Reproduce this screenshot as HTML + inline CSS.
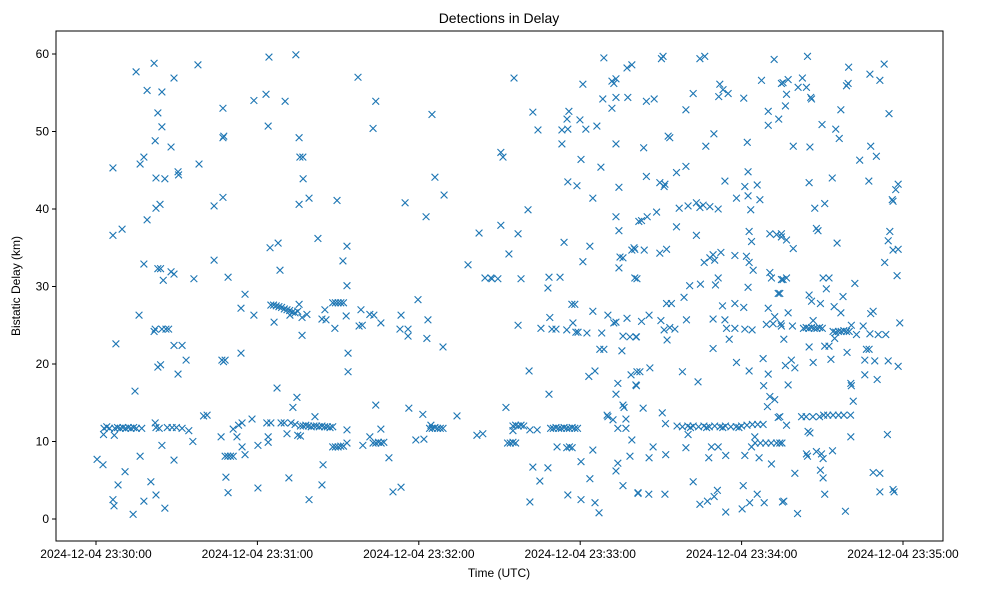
<!DOCTYPE html>
<html><head><meta charset="utf-8"><style>
html,body{margin:0;padding:0;background:#fff;}
svg{display:block;font-family:"Liberation Sans","DejaVu Sans",sans-serif;}
</style></head><body>
<svg id="chart" width="985" height="590" viewBox="0 0 985 590">
<rect x="0" y="0" width="985" height="590" fill="#fff"/>
<text x="499" y="23" font-size="14" text-anchor="middle" fill="#000">Detections in Delay</text>
<g id="marks"></g>
<rect x="56" y="31" width="887" height="510" fill="none" stroke="#000" stroke-width="1"/>
<g id="xaxis"></g>
<g id="yaxis"></g>
<text x="499" y="577" font-size="12" text-anchor="middle">Time (UTC)</text>
<text x="20" y="286" font-size="12" text-anchor="middle" transform="rotate(-90 20 286)">Bistatic Delay (km)</text>
</svg>
<script>
const xTickSec = [0, 60, 120, 180, 240, 300];
const xTickLabels = ["2024-12-04 23:30:00","2024-12-04 23:31:00","2024-12-04 23:32:00","2024-12-04 23:33:00","2024-12-04 23:34:00","2024-12-04 23:35:00"];
const yTicks = [0, 10, 20, 30, 40, 50, 60];
// [seconds after 23:30:00, bistatic delay km]
const detections = [
[21.6,58.8],[14.9,57.7],[37.9,58.6],[29,56.9],[19,55.3],[24.5,55.1],[23,52.4],[24.5,50.6],[22,48.8],[27.9,48],[17.8,46.7],[16.4,45.8],[6.3,45.3],[38.3,45.8],[22.3,44],[25.6,43.9],[30.5,44.8],[30.7,44.4],[22.3,40.1],[23.8,40.6],[19,38.6],[6.3,36.6],[9.7,37.4],[17.8,32.9],[23,32.3],[24,32.3],[25,30.8],[27.9,31.9],[29,31.6],[36.4,31],[16,26.3],[22,24.5],[21.6,24.2],[24.5,24.5],[26,24.5],[27,24.5],[7.4,22.6],[29,22.4],[32,22.4],[33.5,20.5],[23,19.6],[24,19.9],[30.5,18.7],[14.5,16.5],[40,13.3],
[3,11.7],[4,11.9],[5,11.7],[7,11.7],[8,11.8],[9,11.7],[10,11.8],[11,11.7],[12,11.8],[13,11.7],[14,11.8],[15,11.7],[17,11.7],[2.8,10.9],[6.8,10.8],[22,12.4],[22.3,11.8],[23.5,11.7],[26.5,11.8],[28.3,11.8],[29.9,11.8],[32,11.7],[34.5,11.4],[36,10],[24.5,9.5],[16.4,8.1],[29,7.6],[0.4,7.7],[2.6,7],[10.8,6.1],[8.2,4.4],[20.4,4.8],[22.3,3.1],[17.8,2.3],[6.3,2.5],[6.7,1.7],[25.6,1.4],[13.8,0.6],
[64.3,59.6],[74.3,59.9],[58.7,54],[63.2,54.8],[70.3,53.9],[47.2,53],[64,50.7],[47.2,49.2],[47.5,49.4],[75.5,49.2],[75.8,46.7],[76.9,46.7],[77,43.9],[75.5,40.6],[79.2,41.4],[89.6,41.1],[43.9,40.4],[47.2,41.5],[64.7,35],[67.7,35.6],[82.5,36.2],[93.3,35.2],[91.8,33.3],[93.3,30.1],[43.9,33.4],[49.1,31.2],[55.4,29],[53.9,27.2],[58.7,26.3],[68.4,32.1],
[65,27.6],[66,27.6],[67,27.5],[68,27.4],[69,27.3],[70,27.1],[71,27],[72,26.9],[73,26.7],[74,26.6],[75,26.8],[75.5,27.7],[66.2,25.4],[72.1,26.3],[76.6,26],[78.4,26.4],[76.6,23.7],[85.1,27],[84,25.8],[85.5,25.7],[88.8,24.6],[88,27.9],[89,27.9],[90,27.9],[91,27.9],[92,27.9],[93,26.2],[93.7,21.4],[93.7,19],[46.8,20.5],[48,20.5],[47.4,20.3],[53.9,21.4],[67.3,16.9],[74.7,15.7],[73.2,14.4],[41.3,13.4],[81.4,13.2],
[76,12],[77,12],[78,12.1],[79,12],[80,11.9],[81,12],[82,12],[83,11.9],[84,12],[85,11.9],[86,11.9],[87,11.8],[88,11.9],[58,12.9],[54.3,12.4],[53,12.1],[51,11.6],[63.5,12.4],[65,12.4],[68.8,12.4],[70,12.4],[72.5,12.4],[74,12.2],[46.5,10.6],[52.4,10.6],[64,10.6],[64,9.9],[71,11],[75,10.8],[76,10.7],[60.2,9.5],[54.3,9.3],[48,8.1],[49,8.1],[50,8.1],[51,8.1],[55.4,8.3],[88,9.3],[89,9.3],[90,9.3],[91,9.4],[92,9.4],[93.3,9.8],[93.3,11.5],[84.4,7],[48.3,5.4],[49.1,3.4],[60.2,4],[71.7,5.3],[84,4.4],[79.2,2.5],
[97.4,57],[104,53.9],[103,50.4],[124.9,52.2],[126,44.1],[129.4,41.8],[114.9,40.8],[122.7,39],[142.4,36.9],[138.3,32.8],[144.6,31.1],[146.8,31.1],[119.7,28.3],[98.5,27],[101.8,26.4],[103.3,26.3],[97.8,24.9],[99,25],[105.9,25.3],[113.4,26.3],[123.4,25.7],[113,24.5],[116,24.5],[116,23.6],[123,23.3],[129,22.2],[104,14.7],[116.3,14.3],[121.5,13.5],[134.2,13.3],[105.9,11.6],[101.8,10.6],[99.2,9.5],[103,9.8],[104,9.8],[105,9.9],[106,9.8],[107,9.9],[108.9,7.9],[118.9,10.2],[121.9,10.3],[124.5,12.1],[124,11.7],[125,11.7],[126,11.8],[127,11.7],[128,11.7],[129,11.7],[141.6,10.8],[143.8,11],[110.4,3.5],[113.4,4.1],
[188.8,59.5],[197.4,58.2],[199.2,58.6],[155.4,56.9],[181,56.1],[191.8,56.5],[193.3,56.8],[192.5,56.2],[188.4,54.2],[193.3,54.4],[197.7,54.4],[191.8,53],[162.4,52.5],[175.8,52.6],[175.1,51.6],[179.9,51.5],[164.3,50.2],[173.2,50.2],[175.4,50.3],[182.1,50.3],[186.2,50.7],[173.2,48.4],[193.3,48.4],[150.5,47.3],[151.3,46.7],[180.3,46.4],[187.7,45.4],[175.4,43.5],[178.8,43],[194.4,42.8],[184.7,41.4],[160.6,39.9],[150.5,37.9],[156.9,36.8],[193.3,39],[194.4,37.2],[201.8,38.4],[174,35.7],[183.6,35.2],[153.5,34.2],[181,33.2],[194.8,33.8],[195.9,33.7],[199.2,34.7],[200,35],[194.4,32.4],[147.2,31],[149.4,31],[158,31],[168.4,31.2],[168,29.8],[172.5,31.2],[201.1,31],[176.9,27.7],[178,27.7],[184.7,26.8],[190.3,26.3],[193.3,25.4],[192.5,25.3],[197.4,25.9],[168.7,26],[156.9,25],[165.4,24.6],[169.5,24.5],[171,24.5],[175,24.4],[177.3,25.3],[178.4,24.1],[179.2,24.1],[182.5,24],[188,24],[195.9,23.6],[198.5,23.5],[200.7,23.5],[187.3,21.9],[188.8,21.9],[195.5,21.7],[161,19.1],[183.2,18.4],[185.5,19.1],[198.9,18.6],[201.1,19],[194,17.5],[200.7,17.3],[168.4,16.1],[193.3,16.1],[152.4,14.4],[195.9,14.7],[196.3,14.4],[190,13.4],[190.3,13.2],[192.2,12.8],[197,12.9],[194,11.7],[197,11.7],[199.2,10.2],
[155,12],[156,12.1],[157,12],[158,12.1],[159,12],[155,11.4],[153,9.8],[154,9.8],[155,9.9],[156,9.8],[161.3,11.5],[164,11.5],
[169,11.7],[170,11.7],[171,11.8],[172,11.7],[173,11.7],[174,11.8],[175,11.7],[176,11.7],[177,11.8],[178,11.7],[179,11.7],[171.4,9.3],[175,9.2],[176,9.3],[177,9.2],[184.7,8.9],[180.3,7.4],[198.5,8.1],[162.4,6.7],[168,6.6],[194,7.2],[193.3,6.2],[165,4.9],[183.6,5.2],[195.9,4.3],[201.5,3.4],[161.3,2.2],[175.4,3.1],[180.3,2.5],[185.5,2.1],[187,0.8],
[210.8,59.7],[210.2,59.4],[224.5,59.4],[226.3,59.7],[252.1,59.3],[247.4,56.6],[254.8,56.2],[231.9,56.1],[233.1,55.4],[231.5,54.5],[235,54.9],[222,54.9],[240.8,54.3],[204.6,53.9],[207.5,54.2],[219.3,52.8],[249.9,52.6],[249.9,50.8],[253.8,51.6],[212.7,49.4],[213.3,49.2],[229.7,49.7],[226.7,48.1],[242.1,48.6],[203.6,47.9],[204.6,44.2],[215.8,44.7],[219.3,45.5],[209.6,43.4],[211.5,43.2],[211.2,42.9],[233.8,43.6],[242.4,44.8],[241.2,42.9],[245.8,43.1],[242.4,41.7],[238.1,41.4],[246.8,41.2],[243.4,39.9],[202.8,38.5],[204.9,39],[208.4,39.6],[215.8,37.7],[216.8,40.1],[220.1,40.4],[223.2,40.8],[225.7,40.5],[228.2,40.3],[231.3,40],[224.5,40.2],[223.2,36.6],[242.8,37.1],[243.7,35.8],[250.5,36.8],[253,36.7],[254.8,36.4],[200.3,34.8],[203.8,34.7],[209.6,34.3],[212.1,34.8],[226.1,33.1],[228.2,33.7],[230,33.4],[232.3,34.4],[229.4,34.1],[237.5,34],[241.8,33.9],[242.8,33.1],[244.3,32.1],[200.3,31.1],[220.7,30.1],[224.7,30.3],[230.3,30.2],[231.3,31.1],[242.4,29.9],[250.5,31.8],[251.1,31.1],[254.8,30.9],[253.6,29.1],[218.6,28.6],[212.1,27.8],[213.9,27.8],[232.9,27.5],[237.5,27.8],[240.8,27.3],[249.9,27.2],[252.3,26.1],[202.8,25.5],[205.6,26.3],[210,25.6],[219.5,25.7],[211.2,24.4],[213.3,24.7],[215.2,24.5],[212.3,23.1],[229.4,25.8],[233.8,25.7],[234.4,24.6],[237.5,24.6],[235.4,23.2],[241.2,24.5],[243.9,24.4],[249.2,25.1],[251.7,25.2],[254.6,25.2],[200.9,23.5],[229.4,22],[238.1,20.2],[242.8,19.1],[248,20.7],[249.9,18.7],[248.2,17.2],[250.5,15.8],[252.3,15.4],[249.6,14.5],[202.2,19],[205.9,19.5],[200.9,17.2],[218,19],[223.8,17.7],[203.4,14.3],[210.5,13.7],[211.7,12.3],[253.6,13.1],
[216,12],[218,11.9],[220,12],[222,12],[224,11.9],[226,12],[228,11.9],[230,12],[232,11.9],[234,12],[236,11.9],[238,11.9],[240,12],[242,12.1],[244,12.2],[246,12.2],[248,12.2],[221,11.8],[227,11.8],[233,11.8],[239,11.8],
[220.1,10.9],[244.9,10.6],[245,9.8],[247,9.8],[249,9.8],[251,9.8],[253,9.8],[255,9.8],[207.1,9.3],[205.6,7.9],[211.8,8.3],[219.3,9.2],[228.8,9.3],[231.3,9.3],[227.8,7.9],[234.1,8.2],[241.2,8.2],[243.7,9.3],[246.5,7.9],[251.1,7.1],[222,4.8],[240.6,4.3],[201.5,3.3],[205.5,3.2],[211.5,3.2],[224.5,1.9],[227.3,2.3],[229.8,2.9],[231,3.7],[234.1,0.9],[240.2,1.3],[243,2.1],[245.8,3.2],[248.4,2.1],[255.2,2.2],
[264.5,59.7],[279.8,58.3],[293,58.7],[287.7,57.4],[291.4,56.6],[255.4,56.3],[257.3,56.7],[256.7,54.8],[256.3,53.3],[261,55.7],[262.6,56.9],[264.1,55.7],[265.7,54.4],[266,54.2],[279.6,56.2],[279,55.9],[276.9,52.8],[294.8,52.3],[269.9,50.9],[275,50.3],[276.3,49.1],[259.2,48.1],[265.4,48],[288,48.1],[290.1,46.8],[283.9,46.3],[265.1,43.4],[273.7,44],[287.3,43.6],[298.2,43.2],[297.3,42.5],[296,41.2],[296.3,41],[267.2,40.1],[270.9,40.7],[267.8,37.5],[268.4,37.2],[254.8,36.8],[256.7,36],[259.2,34.9],[275.5,35.6],[295.1,37.1],[294.5,35.9],[296.3,34.7],[298.2,34.8],[293.2,33.1],[297.8,31.4],[255.4,30.9],[256.7,31.1],[270.3,31.1],[272.5,31.1],[271.5,29.7],[282.1,30.4],[254.2,29.1],[265.1,28.9],[266,28.1],[269.3,27.8],[277.7,28.7],[274.4,27.4],[276.9,26.6],[257.3,26.6],[288,26.5],[288.9,26.8],[254.8,24.9],[258.9,24.9],
[263,24.6],[264,24.7],[265,24.6],[266,24.7],[267,24.6],[268,24.6],[269,24.7],[270,24.6],[266.6,25.6],[255.7,23.2],[274,24.2],[275,24.1],[276,24.2],[277,24.2],[278,24.3],[279,24.2],[280,24.2],[274.6,23.3],[280.8,25],[282.7,23.8],[285.2,24.9],[287.7,23.9],[290.8,23.8],[293.6,23.8],[298.8,25.3],[265.1,22.2],[270.9,22.3],[272.5,22.3],[279.2,21.5],[286.4,21.9],[287.4,21.9],[285.8,20.5],[289.5,20.4],[294.5,20.4],[298.2,19.7],[256.3,19.8],[258.5,20.5],[259.8,19.5],[266.6,20.2],[273.2,20.6],[285.8,18.6],[290.4,18],[257.3,17.3],[280.8,17.2],[280.6,17.5],[281.5,15.2],[254.2,13.2],[256.7,12.1],
[262.3,13.2],[264,13.2],[266.5,13.2],[269,13.2],[270.5,13.4],[272,13.4],[274,13.4],[276,13.4],[278,13.4],[280.5,13.4],[264.7,11.3],[265.4,11.1],[280.6,10.6],[294.2,10.9],[254.2,9.8],[264.1,8.4],[264.5,8.1],[267.8,8.7],[269.7,8.4],[270.3,7.8],[273.8,8.8],[259.8,5.9],[269.3,6.3],[270.3,5.3],[288.9,6],[291.4,5.9],[291.4,3.5],[296.3,3.8],[296.7,3.5],[270.9,3.2],[255.7,2.3],[260.8,0.7],[278.6,1]
];
const NS = "http://www.w3.org/2000/svg";
const PL = 56, PR = 943, PT = 31, PB = 541;
function xScale(s) { return 96 + s * (161.4 / 60); }
function yScale(km) { return 519 - km * 7.75; }
const marks = document.getElementById('marks');
detections.forEach(function (d) {
  const cx = xScale(d[0]), cy = yScale(d[1]), h = 3.4;
  const p = document.createElementNS(NS, 'path');
  p.setAttribute('d', 'M' + (cx - h) + ' ' + (cy - h) + 'L' + (cx + h) + ' ' + (cy + h) + 'M' + (cx - h) + ' ' + (cy + h) + 'L' + (cx + h) + ' ' + (cy - h));
  p.setAttribute('stroke', '#1f77b4');
  p.setAttribute('stroke-width', '1.1');
  p.setAttribute('fill', 'none');
  
  
  marks.appendChild(p);
});
const xa = document.getElementById('xaxis');
xTickSec.forEach(function (s, i) {
  const x = xScale(s);
  const t = document.createElementNS(NS, 'line');
  t.setAttribute('x1', x); t.setAttribute('x2', x); t.setAttribute('y1', PB); t.setAttribute('y2', PB + 4);
  t.setAttribute('stroke', '#000');
  
  
  xa.appendChild(t);
  const l = document.createElementNS(NS, 'text');
  l.setAttribute('x', x); l.setAttribute('y', PB + 17);
  l.setAttribute('font-size', '12'); l.setAttribute('text-anchor', 'middle');
  l.textContent = xTickLabels[i];
  
  
  xa.appendChild(l);
});
const ya = document.getElementById('yaxis');
yTicks.forEach(function (v) {
  const y = yScale(v);
  const t = document.createElementNS(NS, 'line');
  t.setAttribute('x1', PL - 4); t.setAttribute('x2', PL); t.setAttribute('y1', y); t.setAttribute('y2', y);
  t.setAttribute('stroke', '#000');
  
  
  ya.appendChild(t);
  const l = document.createElementNS(NS, 'text');
  l.setAttribute('x', PL - 7); l.setAttribute('y', y + 4);
  l.setAttribute('font-size', '12'); l.setAttribute('text-anchor', 'end');
  l.textContent = String(v);
  
  
  ya.appendChild(l);
});
</script>
</body></html>
